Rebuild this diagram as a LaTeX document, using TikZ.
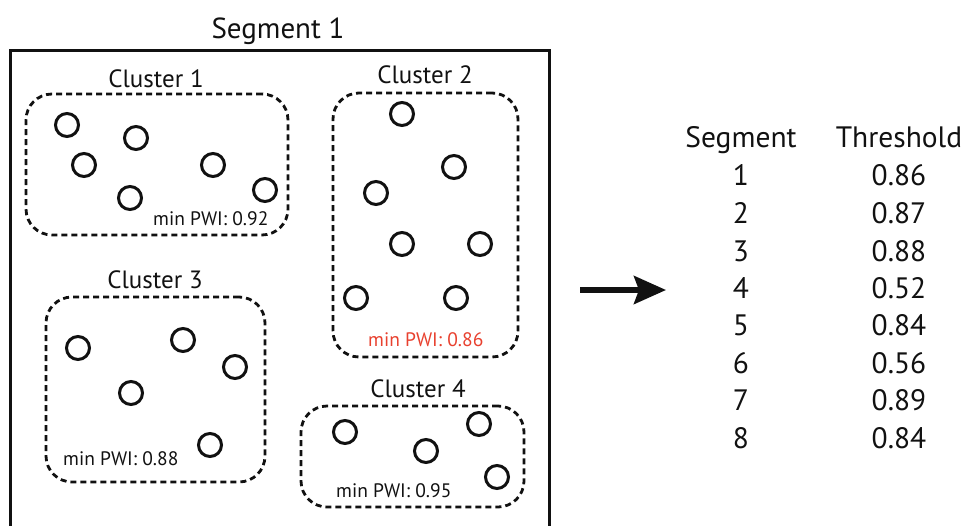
\documentclass[tikz,border=0pt]{standalone}
\usepackage{fontspec}
\setmainfont{PT Sans}
\usetikzlibrary{arrows.meta,positioning}
\definecolor{ink}{HTML}{111111}
\definecolor{pwired}{HTML}{E8412F}
\tikzset{
  every node/.style={text=ink},
  seg/.style={draw=ink,line width=3pt,inner sep=0},
  clus/.style={draw=ink,line width=2.8pt,dash pattern=on 6pt off 4pt,rounded corners=26pt,inner sep=0},
  pt/.style={circle,draw=ink,line width=3pt,minimum size=23pt,inner sep=0},
  segtitle/.style={font=\fontsize{29}{35}\selectfont,anchor=base,inner sep=0},
  cname/.style={font=\fontsize{25}{30}\selectfont,anchor=base,inner sep=0},
  pwi/.style={font=\fontsize{19.5}{23}\selectfont,anchor=base west,inner sep=0},
  tab/.style={font=\fontsize{29.5}{35}\selectfont,anchor=base,inner sep=0},
  bigarr/.style={-{Stealth[length=32pt,width=28pt,inset=5pt]},line width=5.5pt,draw=ink}
}
\begin{document}
\begin{tikzpicture}[x=1pt,y=-1pt]
\useasboundingbox (0,0) rectangle (971,525);
% segment frame (runs off the bottom)
\node[segtitle] (segname) at (278,38) {Segment 1};
\node[seg,minimum width=539pt,minimum height=520pt] (segbox) at (279.5,310) {};
% cluster 1
\node[clus,minimum width=262pt,minimum height=141pt] (c1) at (157,164.5) {};
\node[cname] (c1name) at (156,87) {Cluster 1};
\node[pt] (c1a) at (67,125) {};  \node[pt] (c1b) at (136,138) {};
\node[pt] (c1c) at (84,165) {};  \node[pt] (c1d) at (213,165) {};
\node[pt] (c1e) at (130,198) {}; \node[pt] (c1f) at (265,190) {};
\node[pwi] (c1pwi) at (153,225) {min PWI: 0.92};
% cluster 2
\node[clus,minimum width=185pt,minimum height=264pt] (c2) at (425.5,225) {};
\node[cname] (c2name) at (425,83) {Cluster 2};
\node[pt] (c2a) at (402,114) {}; \node[pt] (c2b) at (454,167) {};
\node[pt] (c2c) at (376,193) {}; \node[pt] (c2d) at (402,244) {};
\node[pt] (c2e) at (480,244) {}; \node[pt] (c2f) at (356,298) {};
\node[pt] (c2g) at (456,298) {};
\node[pwi,text=pwired] (c2pwi) at (368,346) {min PWI: 0.86};
% cluster 3
\node[clus,minimum width=219pt,minimum height=185pt] (c3) at (155.5,389.5) {};
\node[cname] (c3name) at (155,288) {Cluster 3};
\node[pt] (c3a) at (78,348) {};  \node[pt] (c3b) at (183,340) {};
\node[pt] (c3c) at (235,367) {}; \node[pt] (c3d) at (131,393) {};
\node[pt] (c3e) at (210,445) {};
\node[pwi] (c3pwi) at (63,465) {min PWI: 0.88};
% cluster 4
\node[clus,minimum width=223pt,minimum height=101pt] (c4) at (412.5,456.5) {};
\node[cname] (c4name) at (418,397) {Cluster 4};
\node[pt] (c4a) at (345,432) {}; \node[pt] (c4b) at (426,451) {};
\node[pt] (c4c) at (479,424) {}; \node[pt] (c4d) at (497,477) {};
\node[pwi] (c4pwi) at (336,497) {min PWI: 0.95};
% arrow to the table
\coordinate (arrfrom) at (580,290);
\coordinate (arrto) at (666,290);
\draw[bigarr] (arrfrom) -- (arrto);
% thresholds per segment
\node[tab] (hseg) at (741,147) {Segment};   \node[tab] (hthr) at (899,147) {Threshold};
\node[tab] (s1) at (741,185) {1}; \node[tab] (t1) at (899,185) {0.86};
\node[tab] (s2) at (741,223) {2}; \node[tab] (t2) at (899,223) {0.87};
\node[tab] (s3) at (741,261) {3}; \node[tab] (t3) at (899,261) {0.88};
\node[tab] (s4) at (741,298) {4}; \node[tab] (t4) at (899,298) {0.52};
\node[tab] (s5) at (741,335) {5}; \node[tab] (t5) at (899,335) {0.84};
\node[tab] (s6) at (741,373) {6}; \node[tab] (t6) at (899,373) {0.56};
\node[tab] (s7) at (741,410) {7}; \node[tab] (t7) at (899,410) {0.89};
\node[tab] (s8) at (741,448) {8}; \node[tab] (t8) at (899,448) {0.84};
\end{tikzpicture}
\end{document}
